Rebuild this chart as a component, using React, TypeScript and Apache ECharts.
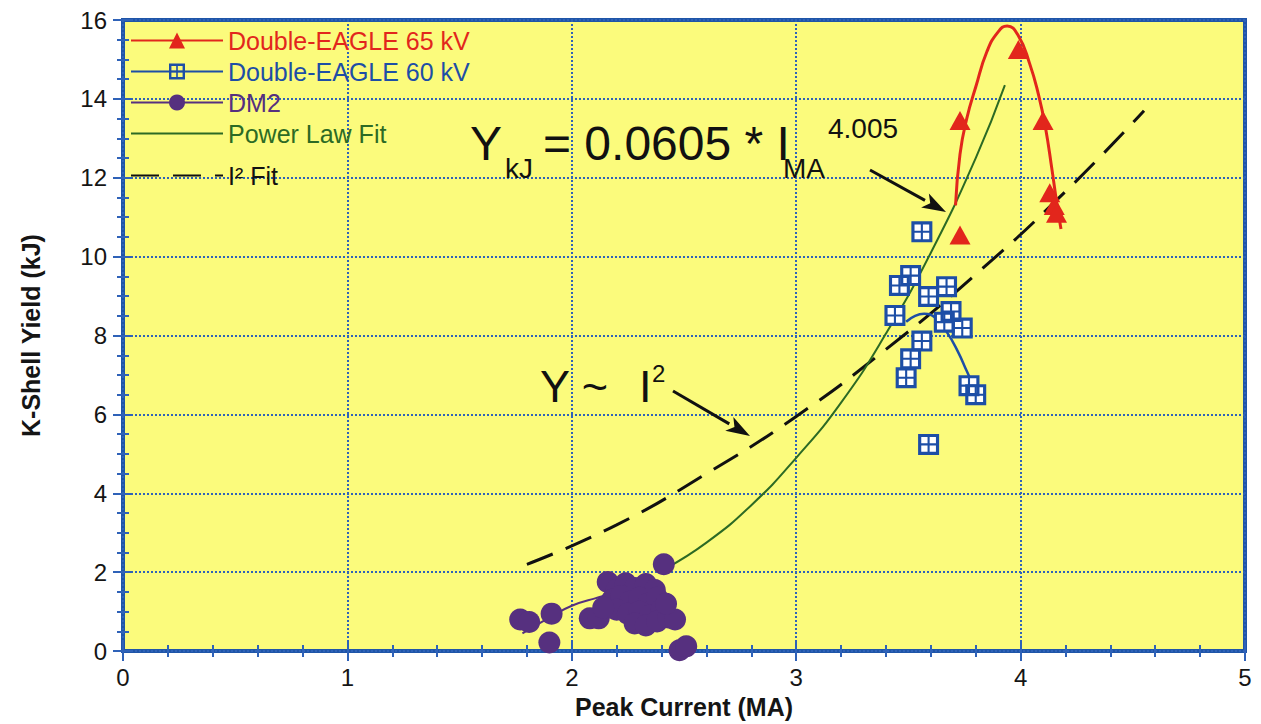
import React, { useEffect, useRef } from "react";
import * as echarts from "echarts";

const xTicks = [0, 1, 2, 3, 4, 5];
const yTicks = [0, 2, 4, 6, 8, 10, 12, 14, 16];

const seriesNames = ["Double-EAGLE 65 kV", "Double-EAGLE 60 kV", "DM2", "Power Law Fit", "I² Fit"];

const eagle65Points = [
  [3.73, 10.55], [3.73, 13.45], [3.99, 15.25], [4.1, 13.45], [4.13, 11.62], [4.15, 11.3], [4.16, 11.1],
];
const eagle65Curve = [
  [3.71, 11.3], [3.73, 12.6], [3.76, 13.5], [3.8, 14.3], [3.85, 15.2], [3.9, 15.7], [3.94, 15.85],
  [3.99, 15.6], [4.04, 14.9], [4.08, 14.1], [4.11, 13.3], [4.14, 12.2], [4.16, 11.4], [4.18, 10.7],
];
const eagle60Points = [
  [3.56, 10.63], [3.51, 9.52], [3.46, 9.27], [3.67, 9.24], [3.59, 8.99], [3.44, 8.51], [3.69, 8.61],
  [3.66, 8.34], [3.74, 8.19], [3.56, 7.86], [3.51, 7.41], [3.49, 6.93], [3.77, 6.73], [3.8, 6.5], [3.59, 5.24],
];
const eagle60Curve = [
  [3.49, 8.35], [3.53, 8.5], [3.57, 8.55], [3.62, 8.45], [3.67, 8.1], [3.72, 7.6], [3.76, 7.1], [3.8, 6.6],
];
const dm2Points = [
  [1.77, 0.8], [1.81, 0.74], [1.91, 0.95], [1.9, 0.22], [2.08, 0.83], [2.12, 0.83], [2.41, 2.2],
  [2.48, 0.02], [2.51, 0.12],
  [2.16, 1.75], [2.2, 1.55], [2.24, 1.72], [2.28, 1.6], [2.33, 1.7], [2.37, 1.55], [2.18, 1.3],
  [2.22, 1.4], [2.26, 1.25], [2.3, 1.35], [2.34, 1.2], [2.38, 1.35], [2.2, 1.05], [2.25, 0.95],
  [2.3, 1.0], [2.35, 0.9], [2.4, 1.05], [2.28, 0.7], [2.33, 0.65], [2.38, 0.75], [2.43, 0.85],
  [2.46, 0.8], [2.42, 1.2], [2.14, 1.1],
];
const dm2Curve = [
  [1.78, 0.45], [1.9, 0.85], [2.0, 1.15], [2.1, 1.33], [2.2, 1.45], [2.3, 1.42], [2.4, 1.15], [2.48, 0.75],
];
const powerLawFit = [
  [2.42, 2.1], [2.6, 2.75], [2.8, 3.7], [3.0, 4.9], [3.2, 6.3], [3.4, 8.05], [3.6, 10.1], [3.8, 12.5], [3.93, 14.35],
];
const squareFit = [
  [1.8, 2.2], [2.2, 3.2], [2.6, 4.5], [3.0, 5.95], [3.4, 7.65], [3.8, 9.55], [4.2, 11.65], [4.55, 13.7],
];

const RED = "#e2261c";
const BLUE = "#1d4ea6";
const PURPLE = "#56307f";
const GREEN = "#2c6a24";
const GRIDBLUE = "#2f62b8";
const FONT = "'Liberation Sans', Arial, Helvetica, sans-serif";
const CLEAR = "rgba(0,0,0,0)";

const WINDOW =
  "path://M0 0L20 0L20 20L0 20Z M3 3L3 9L9 9L9 3Z M11 3L11 9L17 9L17 3Z M3 11L3 17L9 17L9 11Z M11 11L11 17L17 17L17 11Z";

function arrow(x1: number, y1: number, x2: number, y2: number) {
  const a = Math.atan2(y2 - y1, x2 - x1);
  const L = 24, W = 8;
  const bx = x2 - L * Math.cos(a), by = y2 - L * Math.sin(a);
  const px = -Math.sin(a) * W, py = Math.cos(a) * W;
  return [
    { type: "line", shape: { x1, y1, x2: bx, y2: by }, style: { stroke: "#111", lineWidth: 3 }, z: 100 },
    {
      type: "polygon",
      shape: { points: [[x2, y2], [bx + px, by + py], [bx + L * 0.25 * Math.cos(a), by + L * 0.25 * Math.sin(a)], [bx - px, by - py]] },
      style: { fill: "#111" },
      z: 100,
    },
  ];
}

function txt(text: string, x: number, y: number, size: number) {
  return {
    type: "text",
    x,
    y,
    z: 100,
    style: { text, font: `${size}px ${FONT}`, fill: "#111", verticalAlign: "middle", align: "left" },
  };
}

export default function App() {
  const ref = useRef<HTMLDivElement>(null);
  useEffect(() => {
    const chart = echarts.init(ref.current!, null, { renderer: "svg" });
    const axisCommon = {
      axisLine: { show: false },
      axisTick: { show: true, inside: true, length: 10, lineStyle: { color: GRIDBLUE, width: 2 } },
      minorTick: { show: true, length: 6, lineStyle: { color: GRIDBLUE, width: 2 } },
    };
    const legendText = (name: string, color: string) => ({ name, textStyle: { color } });
    chart.setOption({
      animation: false,
      backgroundColor: "#ffffff",
      grid: {
        left: 123, right: 16, top: 20, bottom: 69,
        show: true, backgroundColor: "#fbfb7c", borderColor: "#1f55a8", borderWidth: 4,
      },
      xAxis: [
        {
          type: "value", min: xTicks[0], max: xTicks[xTicks.length - 1], interval: 1,
          ...axisCommon,
          minorTick: { ...axisCommon.minorTick, splitNumber: 5 },
          splitLine: { show: true, lineStyle: { color: GRIDBLUE, width: 2, type: [2, 2] } },
          axisLabel: { fontSize: 24, color: "#151515", fontFamily: FONT, margin: 14 },
          name: "Peak Current (MA)", nameLocation: "middle", nameGap: 42,
          nameTextStyle: { fontSize: 25, fontWeight: "bold", color: "#151515", fontFamily: FONT },
        },
        {
          type: "value", position: "top", min: 0, max: 5, interval: 1,
          ...axisCommon, minorTick: { ...axisCommon.minorTick, splitNumber: 5 },
          axisLabel: { show: false }, splitLine: { show: false },
        },
      ],
      yAxis: [
        {
          type: "value", min: yTicks[0], max: yTicks[yTicks.length - 1], interval: 2,
          ...axisCommon,
          minorTick: { ...axisCommon.minorTick, splitNumber: 4 },
          splitLine: { show: true, lineStyle: { color: GRIDBLUE, width: 2, type: [2, 2] } },
          axisLabel: { fontSize: 24, color: "#151515", fontFamily: FONT, margin: 16 },
          name: "K-Shell Yield (kJ)", nameLocation: "middle", nameGap: 80,
          nameTextStyle: { fontSize: 25, fontWeight: "bold", color: "#151515", fontFamily: FONT },
        },
        {
          type: "value", position: "right", min: 0, max: 16, interval: 2,
          ...axisCommon, minorTick: { ...axisCommon.minorTick, splitNumber: 4 },
          axisLabel: { show: false }, splitLine: { show: false },
        },
      ],
      legend: [
        {
          orient: "vertical", left: 125, top: 23, itemWidth: 92, itemHeight: 20, itemGap: 6,
          textStyle: { fontSize: 25, fontFamily: FONT },
          selectedMode: false,
          data: [
            legendText(seriesNames[0], RED),
            legendText(seriesNames[1], BLUE),
            legendText(seriesNames[2], PURPLE),
            legendText(seriesNames[3], GREEN),
          ],
        },
        {
          orient: "vertical", left: 125, top: 158, itemWidth: 92, itemHeight: 20,
          textStyle: { fontSize: 25, fontFamily: FONT },
          selectedMode: false,
          data: [legendText(seriesNames[4], "#111")],
        },
      ],
      graphic: [
        txt("Y", 470, 143, 48),
        txt("kJ", 505, 168, 28),
        txt("= 0.0605 * I", 543, 143, 48),
        txt("MA", 783, 168, 28),
        txt("4.005", 828, 128, 28),
        ...arrow(870, 170, 946, 212),
        txt("Y ~", 540, 386, 45),
        txt("I", 639, 386, 45),
        txt("2", 652, 373, 24),
        ...arrow(673, 391, 750, 436),
      ],
      series: [
        {
          name: seriesNames[4], type: "line", data: squareFit, smooth: true, symbol: "circle", showSymbol: false,
          lineStyle: { color: "#111", width: 3, type: [28, 14] }, itemStyle: { color: CLEAR, borderWidth: 0 }, z: 2,
        },
        {
          name: seriesNames[3], type: "line", data: powerLawFit, smooth: true, symbol: "circle", showSymbol: false,
          lineStyle: { color: GREEN, width: 2 }, itemStyle: { color: CLEAR, borderWidth: 0 }, z: 3,
        },
        {
          name: seriesNames[2], type: "line", data: dm2Curve, smooth: true, symbol: "circle", symbolSize: 20,
          showSymbol: false, lineStyle: { color: PURPLE, width: 2 }, itemStyle: { color: PURPLE }, z: 4,
        },
        {
          name: seriesNames[2], type: "scatter", data: dm2Points, symbol: "circle", symbolSize: 22,
          itemStyle: { color: PURPLE, opacity: 1 }, clip: false, z: 5,
        },
        {
          name: seriesNames[1], type: "line", data: eagle60Curve, smooth: true, symbol: WINDOW, symbolSize: 18,
          showSymbol: false, lineStyle: { color: BLUE, width: 2.5 }, itemStyle: { color: BLUE }, z: 6,
        },
        {
          name: seriesNames[1], type: "scatter", data: eagle60Points, symbol: "rect", symbolSize: 19,
          itemStyle: { color: "#ffffff", opacity: 1 }, z: 7,
        },
        {
          name: seriesNames[1], type: "scatter", data: eagle60Points, symbol: WINDOW, symbolSize: 21,
          itemStyle: { color: BLUE, opacity: 1 }, z: 8,
        },
        {
          name: seriesNames[0], type: "line", data: eagle65Curve, smooth: true, symbol: "triangle",
          symbolSize: [20, 18], showSymbol: false, lineStyle: { color: RED, width: 3 }, itemStyle: { color: RED }, z: 9,
        },
        {
          name: seriesNames[0], type: "scatter", data: eagle65Points, symbol: "triangle", symbolSize: [21, 19],
          itemStyle: { color: RED, opacity: 1 }, z: 10,
        },
      ],
    });
    return () => chart.dispose();
  }, []);
  return <div ref={ref} style={{ width: 1261, height: 724, position: "absolute", left: 0, top: 0 }} />;
}
